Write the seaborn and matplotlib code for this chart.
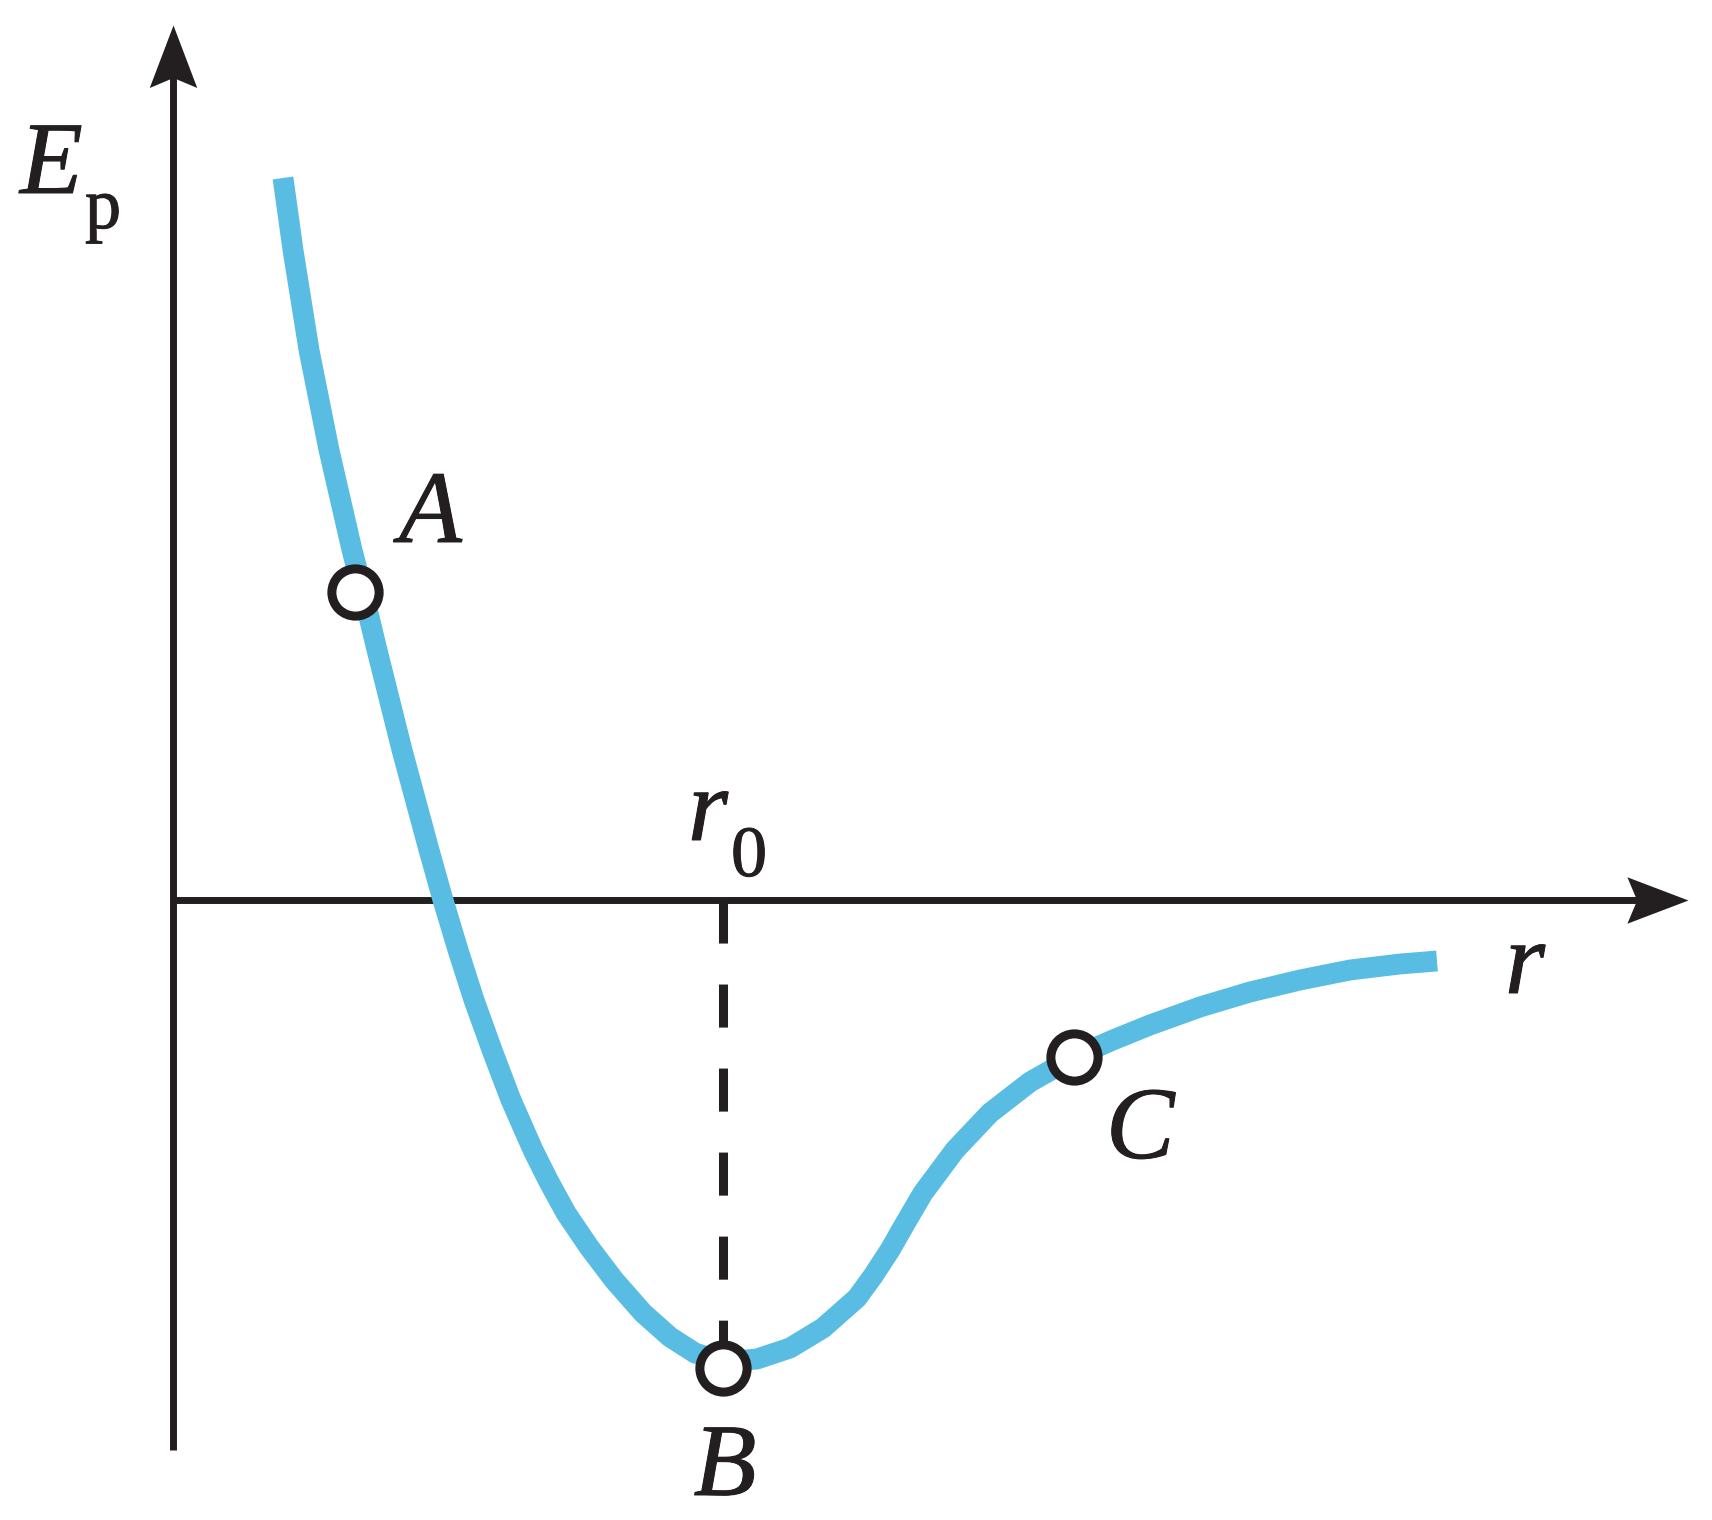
import numpy as np
import seaborn as sns
import matplotlib.pyplot as plt
import matplotlib.patheffects as pe
from matplotlib.path import Path

# Ep(r) curve (arbitrary units, origin where the axes cross)
r_vals = [1.10, 1.20, 1.36, 1.56, 1.79, 1.90, 2.04, 2.29, 2.56, 2.70, 2.85, 3.01,
          3.19, 3.38, 3.60, 3.75, 3.93, 4.16, 4.41, 4.70, 4.97, 5.22, 5.50, 5.84,
          6.17, 6.50, 6.84, 7.00, 7.17, 7.33, 7.50, 7.82, 8.17, 8.57, 9.01, 9.40, 9.77,
          10.27, 10.77, 11.27, 11.77, 12.27, 12.64]
ep_vals = [7.22, 6.50, 5.50, 4.50, 3.50, 3.08, 2.50, 1.50, 0.50, 0.00, -0.50, -1.00,
           -1.50, -2.00, -2.50, -2.80, -3.13, -3.47, -3.80, -4.13, -4.37, -4.53, -4.62, -4.59,
           -4.48, -4.28, -3.98, -3.76, -3.50, -3.22, -2.93, -2.50, -2.13, -1.82, -1.57, -1.40, -1.25,
           -1.07, -0.92, -0.80, -0.70, -0.64, -0.61]

# marked points on the curve
point_names = ['A', 'B', 'C']
point_r = [1.82, 5.50, 9.01]
point_ep = [3.08, -4.68, -1.57]
# where each label sits relative to its point (pixels)
label_offsets = [(44, 50), (2, -127), (32, -101)]

r0 = 5.50
r_axis_end = 15.15
ep_axis_top = 8.75
ep_axis_bottom = -5.50

BLUE = '#58bce3'
INK = '#231f20'
SERIF = ['Liberation Serif', 'DejaVu Serif']
BOLDEN = [pe.withStroke(linewidth=0.7, foreground=INK)]

sns.set_style('white')
plt.rcParams['lines.scale_dashes'] = False

fig = plt.figure(figsize=(17.12, 15.2), dpi=100)
ax = fig.add_axes([0, 0, 1, 1])
ax.set_xlim(-1.73, 15.39)
ax.set_ylim(-6.20, 9.00)
ax.axis('off')


def arrow_head(angle):
    verts = np.array([(0, 0), (-1, 0.38), (-0.84, 0), (-1, -0.38), (0, 0)])
    c, s = np.cos(angle), np.sin(angle)
    verts = verts @ np.array([[c, s], [-s, c]])
    return Path(verts, [Path.MOVETO, Path.LINETO, Path.LINETO, Path.LINETO, Path.CLOSEPOLY])


# axes with arrows
ax.plot([0, r_axis_end - 0.45], [0, 0], color=INK, linewidth=5, solid_capstyle='butt', zorder=2)
ax.plot([0, 0], [ep_axis_bottom, ep_axis_top - 0.45], color=INK, linewidth=5,
        solid_capstyle='butt', zorder=2)
ax.plot([r_axis_end], [0], marker=arrow_head(0), ms=88, color=INK, mew=0, zorder=2)
ax.plot([0], [ep_axis_top], marker=arrow_head(np.pi / 2), ms=90, color=INK, mew=0, zorder=2)

# dashed guide from r0 down to the minimum
ax.plot([r0, r0], [0, point_ep[1]], color=INK, linewidth=6.5, dashes=(31, 29.5),
        solid_capstyle='butt', dash_capstyle='butt', zorder=2)

# the potential energy curve
sns.lineplot(x=r_vals, y=ep_vals, sort=False, color=BLUE, ax=ax, zorder=3)
curve = ax.lines[-1]
curve.set_linewidth(15)
curve.set_solid_joinstyle('round')
curve.set_solid_capstyle('butt')

# hollow markers
sns.scatterplot(x=point_r, y=point_ep, s=1156, marker='o', facecolor='white',
                edgecolor=INK, linewidth=6.5, ax=ax, zorder=4)

for name, x, y, off in zip(point_names, point_r, point_ep, label_offsets):
    ax.annotate(name, xy=(x, y), xytext=off, textcoords='offset pixels',
                ha='center' if name == 'B' else 'left', va='baseline',
                fontsize=74, family=SERIF, style='italic', color=INK, path_effects=BOLDEN)

# axis labels
ax.annotate('E', xy=(0, ep_axis_top), xytext=(-153, -168), textcoords='offset pixels',
            ha='left', va='baseline', fontsize=74, family=SERIF, style='italic', color=INK,
            path_effects=BOLDEN)
ax.annotate('p', xy=(0, ep_axis_top), xytext=(-88, -203), textcoords='offset pixels',
            ha='left', va='baseline', fontsize=52, family=SERIF, color=INK, path_effects=BOLDEN)
ax.annotate('r', xy=(r_axis_end, 0), xytext=(-183, -93), textcoords='offset pixels',
            ha='left', va='baseline', fontsize=74, family=SERIF, style='italic', color=INK,
            path_effects=BOLDEN)
ax.annotate('r', xy=(r0, 0), xytext=(-35, 60), textcoords='offset pixels',
            ha='left', va='baseline', fontsize=74, family=SERIF, style='italic', color=INK,
            path_effects=BOLDEN)
ax.annotate('0', xy=(r0, 0), xytext=(8, 24), textcoords='offset pixels',
            ha='left', va='baseline', fontsize=52, family=SERIF, color=INK, path_effects=BOLDEN)

fig.savefig('out.png', dpi=100)
